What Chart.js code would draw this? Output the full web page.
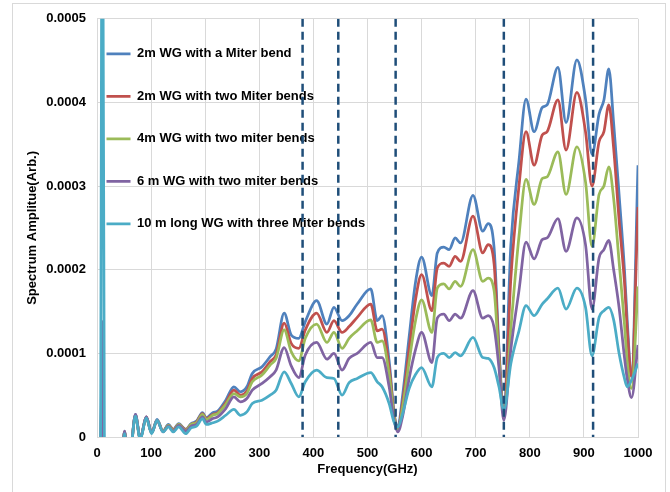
<!DOCTYPE html>
<html><head><meta charset="utf-8">
<script src="https://cdn.jsdelivr.net/npm/chart.js@4"></script>
<style>html,body{margin:0;padding:0;background:#fff;}</style>
</head><body>
<canvas id="c" width="670" height="492"></canvas>
<script>
// Frequencies (GHz) shared by all series
const freq = [0,6,10,14,20,35,46,51,56,62,71,80,91,101,111,122,132,141,151,164,174,184,195,202,214,223,238,253,265,277,287,305,320,331,346,359,373,385,406,425,438,453,466,481,506,518,527,540,549,556,565,577,589,600,619,629,641,651,662,672,695,713,723,734,743,752,765,780,793,808,823,832,852,867,887,903,915,928,937,946,955,965,975,980,988,1000];

// Values in units of 1e-4 (Arb.)
const wg2mOneBend = [-0.5,-0.5,1.2,-0.8,-1.0,-0.8,-0.3,0.07,-0.3,-0.2,0.27,-0.02,0.24,0.05,0.21,0.07,0.15,0.09,0.16,0.09,0.16,0.19,0.29,0.23,0.29,0.31,0.44,0.60,0.54,0.60,0.76,0.84,0.96,1.05,1.48,1.22,1.18,1.38,1.63,1.35,1.55,1.39,1.45,1.59,1.77,1.39,1.45,0.91,0.30,0.12,0.50,1.20,1.86,2.15,1.69,2.20,2.27,2.24,2.38,2.32,2.89,2.46,2.55,2.26,1.07,0.32,2.3,3.3,4.04,3.65,3.94,3.97,4.42,3.76,4.51,4.04,3.38,3.86,4.03,4.40,3.75,2.9,2.0,1.4,0.72,3.25];
const wg2mTwoBends = [-0.5,-0.5,1.1,-0.8,-1.0,-0.8,-0.3,0.06,-0.3,-0.2,0.26,-0.02,0.24,0.05,0.20,0.07,0.14,0.09,0.15,0.09,0.15,0.18,0.28,0.22,0.27,0.29,0.41,0.56,0.50,0.55,0.70,0.78,0.90,0.98,1.36,1.12,1.06,1.28,1.48,1.25,1.39,1.25,1.32,1.43,1.59,1.27,1.29,0.83,0.28,0.10,0.42,1.05,1.65,1.94,1.51,2.02,2.08,2.04,2.16,2.10,2.64,2.20,2.30,2.07,1.00,0.28,1.9,3.0,3.65,3.25,3.61,3.65,4.03,3.43,4.12,3.65,3.00,3.53,3.65,3.97,3.45,2.6,1.85,1.3,0.72,2.75];
const wg4mTwoBends = [-0.5,-0.5,1.0,-0.8,-1.0,-0.8,-0.3,0.06,-0.3,-0.2,0.26,-0.02,0.23,0.05,0.20,0.07,0.14,0.08,0.15,0.08,0.15,0.17,0.27,0.21,0.26,0.28,0.39,0.52,0.48,0.52,0.66,0.74,0.86,0.94,1.28,1.02,0.91,1.18,1.35,1.13,1.25,1.06,1.18,1.27,1.40,1.13,1.15,0.75,0.25,0.08,0.36,0.90,1.40,1.64,1.25,1.78,1.83,1.77,1.86,1.80,2.24,1.86,1.90,1.75,0.91,0.25,1.3,2.4,3.08,2.78,3.09,3.11,3.41,2.90,3.47,3.05,2.28,2.90,3.00,3.23,2.85,2.1,1.35,0.9,0.58,1.8];
const wg6mTwoBends = [-0.5,-0.5,1.38,-0.8,-1.0,-0.8,-0.3,0.07,-0.3,-0.2,0.27,-0.02,0.24,0.05,0.20,0.06,0.13,0.07,0.14,0.07,0.13,0.15,0.24,0.18,0.22,0.24,0.34,0.48,0.42,0.46,0.56,0.64,0.72,0.80,1.07,0.85,0.71,0.98,1.13,0.93,1.00,0.80,0.94,1.00,1.13,0.95,0.95,0.60,0.20,0.06,0.25,0.70,1.05,1.25,0.89,1.42,1.47,1.39,1.47,1.42,1.75,1.42,1.45,1.31,0.83,0.20,1.05,1.75,2.33,2.13,2.36,2.38,2.61,2.22,2.62,2.30,1.53,2.14,2.24,2.35,2.00,1.55,0.95,0.7,0.47,1.1];
const wg10mThreeBends = [-0.5,-0.5,8,-0.8,-1.0,-0.8,-0.3,0.04,-0.3,-0.2,0.25,-0.03,0.23,0.04,0.20,0.06,0.12,0.06,0.12,0.04,0.11,0.13,0.22,0.15,0.17,0.19,0.26,0.33,0.26,0.30,0.40,0.44,0.50,0.56,0.78,0.64,0.48,0.66,0.80,0.71,0.70,0.50,0.65,0.70,0.77,0.66,0.60,0.40,0.18,0.12,0.28,0.58,0.75,0.83,0.60,0.95,1.00,0.95,1.01,0.97,1.19,0.95,0.94,0.83,0.60,0.32,0.88,1.27,1.57,1.45,1.59,1.65,1.78,1.53,1.78,1.55,0.97,1.43,1.51,1.55,1.40,1.00,0.70,0.60,0.68,0.88];

const seriesNames = ['2m WG with a Miter bend','2m WG with two Miter bends','4m WG with two miter bends','6 m WG with two miter bends','10 m long WG with three Miter bends'];
const seriesColors = ['#4F81BD','#C0504D','#9BBB59','#8064A2','#4BACC6'];
const seriesValues = [wg2mOneBend, wg2mTwoBends, wg4mTwoBends, wg6mTwoBends, wg10mThreeBends];

const markerFreqs = [380, 446, 552, 752, 917];
const xTickLabels = ['0','100','200','300','400','500','600','700','800','900','1000'];
const yTickLabels = ['0','0.0001','0.0002','0.0003','0.0004','0.0005'];

const FONT = {family: '"Liberation Sans", Arial, sans-serif', size: 13, weight: 'bold'};

const datasets = seriesValues.map((vals, i) => ({
  label: seriesNames[i],
  data: freq.map((f, k) => ({x: f, y: vals[k]})),
  borderColor: seriesColors[i],
  backgroundColor: seriesColors[i],
  borderWidth: 2.75,
  pointRadius: 0,
  fill: false,
  cubicInterpolationMode: 'monotone',
  order: 5 - i
}));
markerFreqs.forEach(f => datasets.push({
  label: 'marker',
  data: [{x: f, y: 5}, {x: f, y: 0}],
  borderColor: '#1F4E79',
  backgroundColor: '#1F4E79',
  borderWidth: 2.5,
  borderDash: [8, 5],
  pointRadius: 0,
  fill: false,
  tension: 0,
  order: 0
}));

const framePlugin = {
  id: 'frame',
  beforeDraw(chart) {
    const c = chart.ctx;
    c.save();
    c.fillStyle = '#fff';
    c.fillRect(0, 0, chart.width, chart.height);
    c.strokeStyle = '#d9d9d9';
    c.lineWidth = 1;
    c.strokeRect(12.5, 3.5, 653, 496);
    c.restore();
  },
  afterLayout(chart) {
    const lg = chart.legend;
    if (lg) {
      lg.left = chart.chartArea.left - 20;
      lg.top = chart.chartArea.top - 1;
      lg.right = lg.left + lg.width;
      lg.bottom = chart.chartArea.bottom;
    }
  }
};

new Chart(document.getElementById('c'), {
  type: 'line',
  data: {datasets},
  plugins: [framePlugin],
  options: {
    responsive: false,
    animation: false,
    devicePixelRatio: 1,
    layout: {padding: {left: 12, right: 32, top: 16, bottom: 0}},
    plugins: {
      tooltip: {enabled: false},
      legend: {
        position: 'chartArea',
        align: 'start',
        labels: {
          usePointStyle: true,
          pointStyle: 'line',
          pointStyleWidth: 24,
          padding: 29.5,
          color: '#000',
          font: FONT,
          filter: item => item.datasetIndex < 5,
          sort: (a, b) => a.datasetIndex - b.datasetIndex
        }
      }
    },
    scales: {
      x: {
        type: 'linear', min: 0, max: 1000,
        ticks: {stepSize: 100, color: '#000', font: FONT, padding: 9, maxRotation: 0, autoSkip: false,
                callback: v => xTickLabels[Math.round(v / 100)]},
        grid: {color: '#d9d9d9', drawTicks: false},
        border: {color: '#d9d9d9'},
        title: {display: true, text: 'Frequency(GHz)', color: '#000', font: FONT, padding: {top: 0, bottom: 15}},
        afterFit: s => { s.height = 55; }
      },
      y: {
        type: 'linear', min: 0, max: 5,
        ticks: {stepSize: 1, color: '#000', font: FONT, padding: 11, callback: v => yTickLabels[Math.round(v)]},
        grid: {color: '#d9d9d9', drawTicks: false},
        border: {color: '#d9d9d9'},
        title: {display: true, text: 'Spectrum Amplitue(Arb.)', color: '#000', font: FONT, padding: {top: 13, bottom: 0}},
        afterFit: s => { s.width = 85; }
      }
    }
  }
});
</script>
</body></html>
